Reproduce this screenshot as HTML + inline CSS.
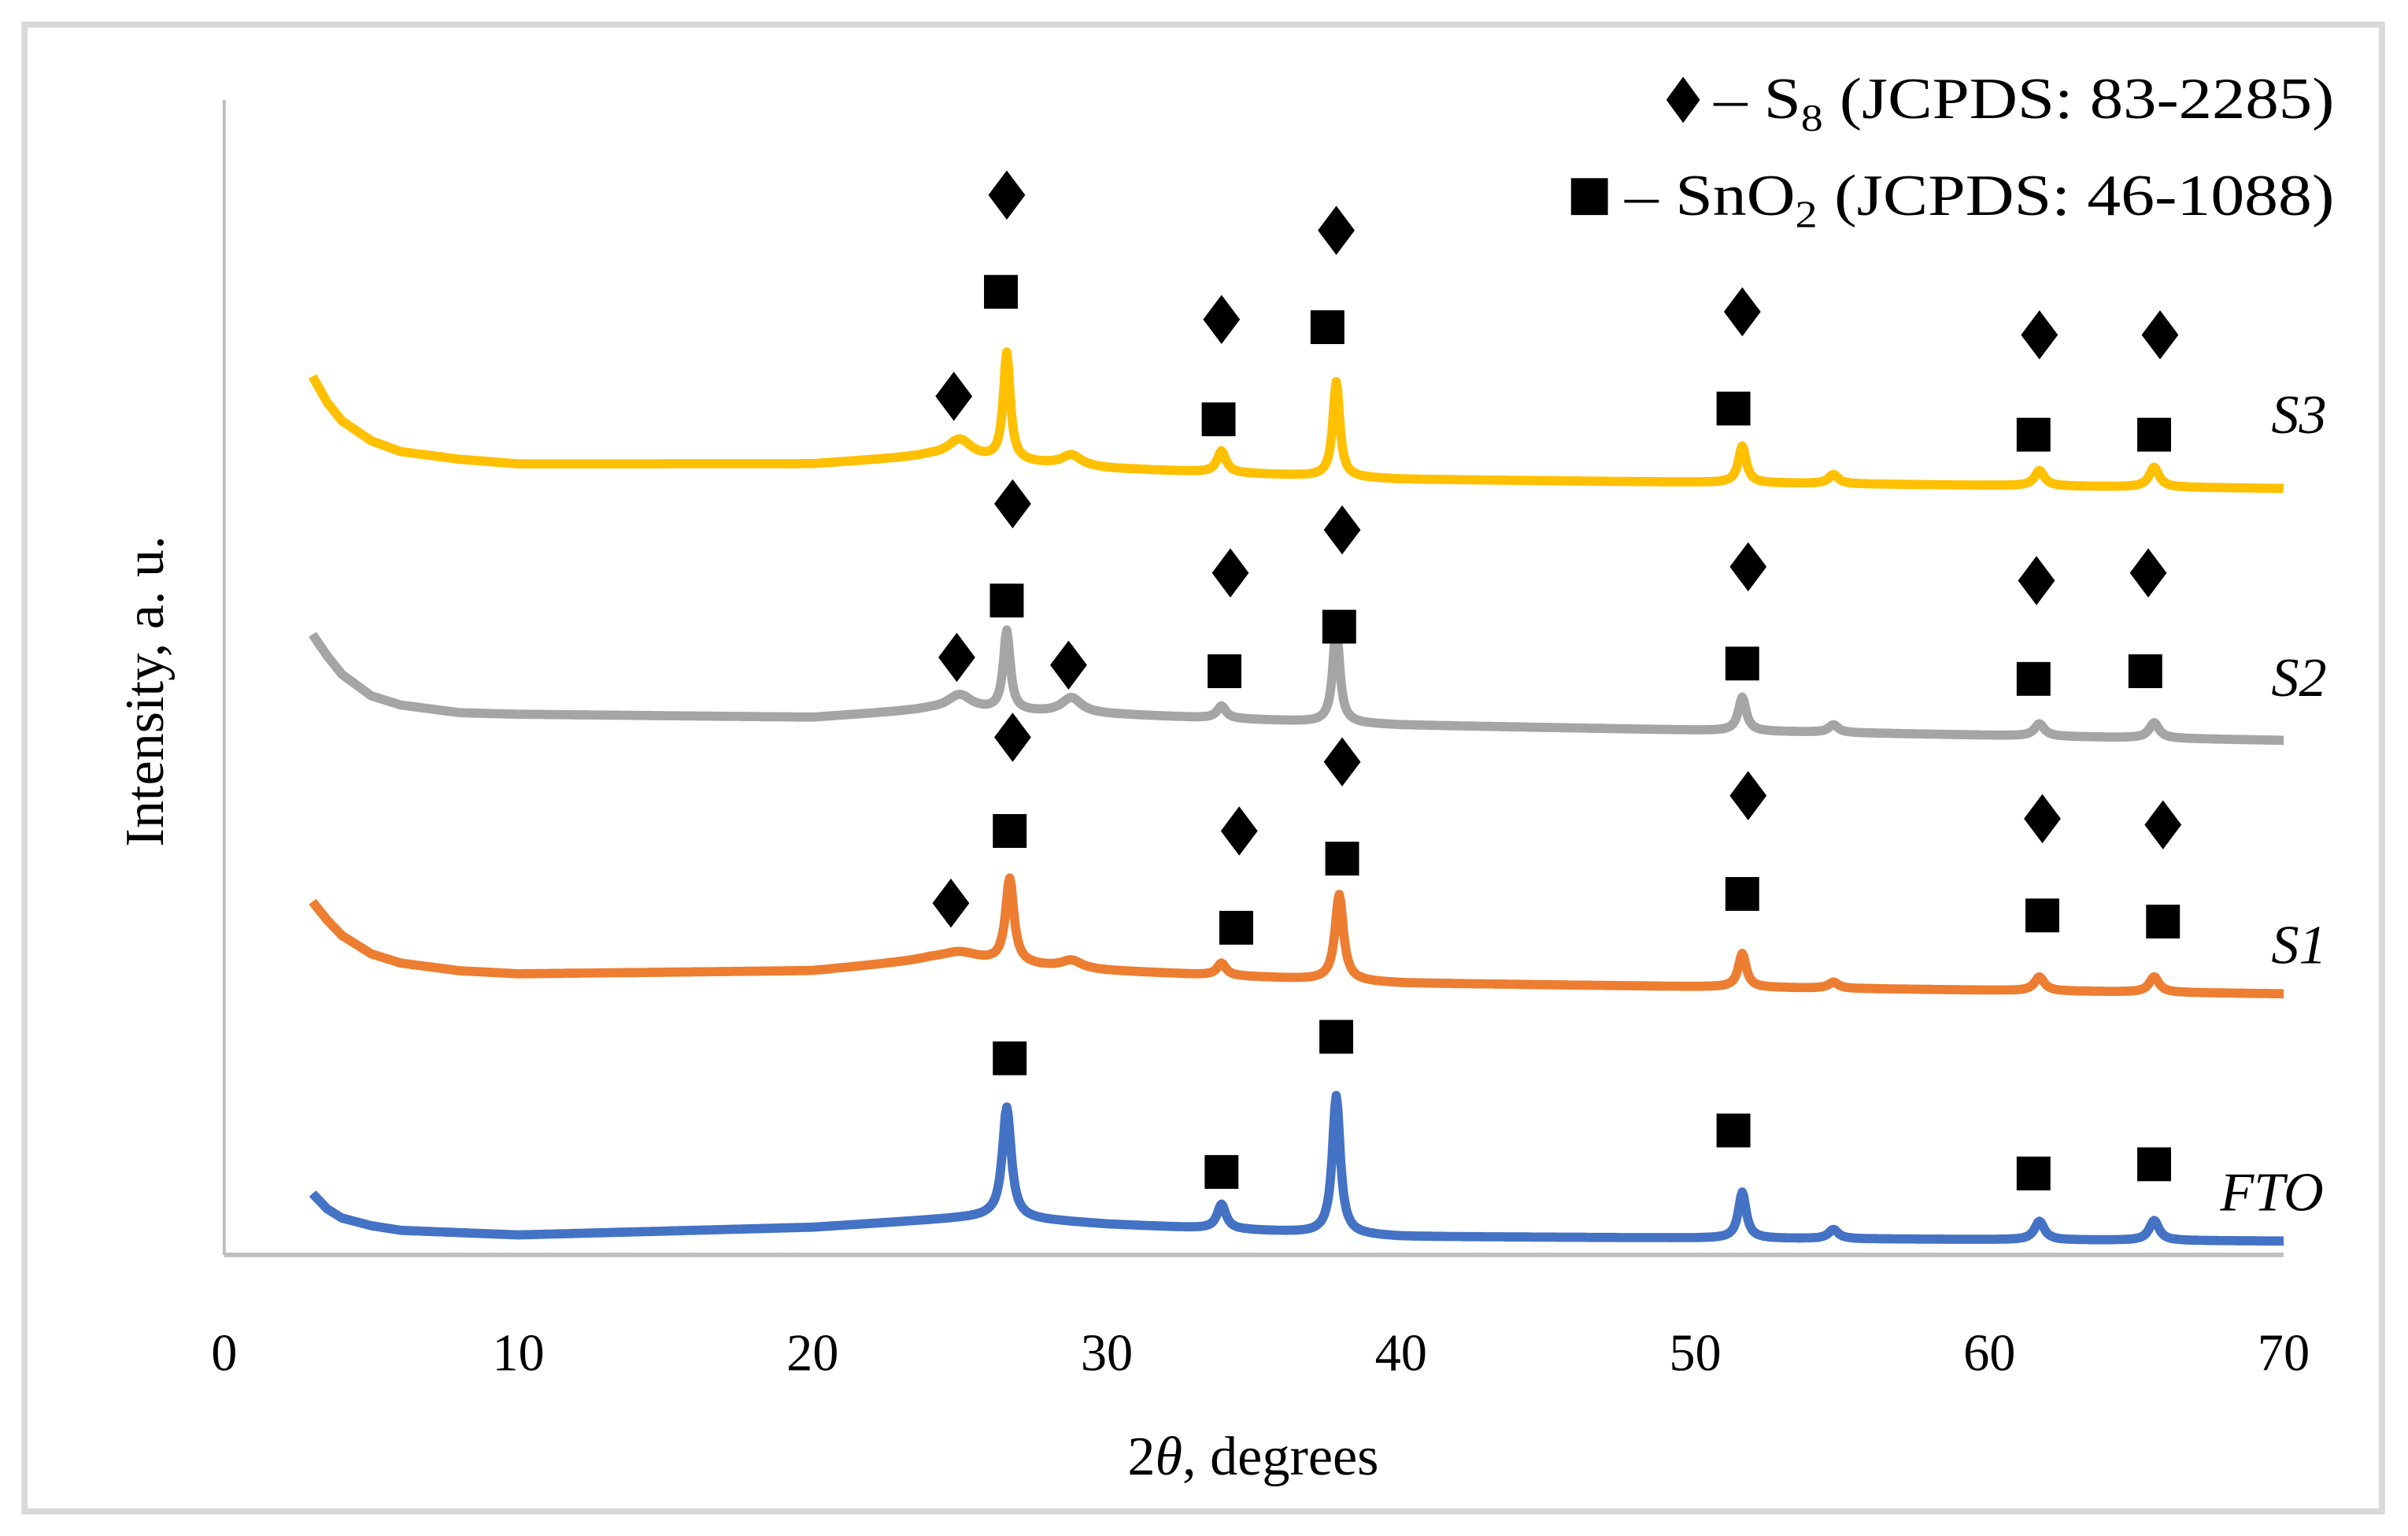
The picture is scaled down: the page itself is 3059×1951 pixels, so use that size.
<!DOCTYPE html>
<html><head><meta charset="utf-8"><style>
html,body{margin:0;padding:0;background:#fff;}
svg{display:block;}
text{font-family:"Liberation Serif",serif;fill:#000;}
</style></head><body>
<svg id="chart" width="3059" height="1951" viewBox="0 0 1568 1000" preserveAspectRatio="none" xmlns="http://www.w3.org/2000/svg">
<rect x="16" y="16" width="1535" height="968" fill="#fff" stroke="#d9d9d9" stroke-width="4"/>
<line x1="146" y1="65" x2="146" y2="817" stroke="#bfbfbf" stroke-width="2"/>
<line x1="146" y1="817" x2="1487" y2="817" stroke="#bfbfbf" stroke-width="3"/>
<g id="ticks"></g>
<g id="series"></g>
<g id="markers"></g>
<text x="816" y="960" font-size="36" text-anchor="middle">2<tspan font-style="italic">θ</tspan>, degrees</text>
<text transform="translate(106,450) rotate(-90)" font-size="36" text-anchor="middle">Intensity, a. u.</text>
<g>
<path d="M1096,50 L1107,65 L1096,80 L1085,65 Z" fill="#000"/>
<text x="1116" y="77" font-size="38" textLength="404" lengthAdjust="spacingAndGlyphs">– S<tspan font-size="25" dy="8">8</tspan><tspan dy="-8"> (JCPDS: 83-2285)</tspan></text>
<rect x="1023" y="116" width="24" height="24" fill="#000"/>
<text x="1058" y="140" font-size="38" textLength="462" lengthAdjust="spacingAndGlyphs">– SnO<tspan font-size="25" dy="8">2</tspan><tspan dy="-8"> (JCPDS: 46-1088)</tspan></text>
</g>
<text x="1515" y="282" font-size="36" font-style="italic" text-anchor="end">S3</text>
<text x="1515" y="453" font-size="36" font-style="italic" text-anchor="end">S2</text>
<text x="1515" y="627" font-size="36" font-style="italic" text-anchor="end">S1</text>
<text x="1513" y="788" font-size="36" font-style="italic" text-anchor="end">FTO</text>
</svg>
<script>
const xTicks=[0,10,20,30,40,50,60,70];
// baseline control points [2theta, intensity]
const ftoBase=[[3,40],[3.5,30],[4,24],[5,19],[6,16],[10,13],[20,18],[25,24],[26,25],[30,20],[40,12],[70,9]];
const s1Base=[[3,230],[3.5,218],[4,208],[5,196],[6,190],[8,185],[10,183],[20,185],[24,192],[26,190],[30,185],[40,177],[70,170]];
const s2Base=[[3,404],[3.5,390],[4,378],[5,364],[6,358],[8,353],[10,352],[20,350],[24,355],[30,352],[40,345],[70,335]];
const s3Base=[[3,572],[3.5,555],[4,543],[5,530],[6,523],[8,518],[10,515],[20,515],[24,520],[30,512],[40,505],[70,499]];
// peaks [2theta, height above baseline, hwhm]
const ftoPeaks=[[26.6,72,0.18],[33.9,16,0.18],[37.8,90,0.16],[51.6,30,0.16],[54.7,6,0.2],[61.7,12,0.2],[65.6,13,0.2]];
const s1Peaks=[[25,6,0.8],[26.7,55,0.17],[28.8,5,0.4],[33.9,8,0.18],[37.9,56,0.17],[51.6,22,0.16],[54.7,4,0.2],[61.7,9,0.2],[65.6,10,0.2]];
const s2Peaks=[[25,10,0.5],[26.6,52,0.14],[28.8,10,0.4],[33.9,8,0.18],[37.8,62,0.14],[51.6,22,0.16],[54.7,5,0.2],[61.7,8,0.2],[65.6,10,0.2]];
const s3Peaks=[[25,12,0.5],[26.6,70,0.14],[28.8,7,0.4],[33.9,14,0.18],[37.8,62,0.14],[51.6,24,0.16],[54.7,6,0.2],[61.7,10,0.2],[65.6,13,0.2]];
// markers [2theta, intensity position]
const s3Diamonds=[[24.8,559],[26.6,690],[33.9,609],[37.8,667],[51.6,614],[61.7,599],[65.8,599]];
const s3Squares=[[26.4,627],[33.8,544],[37.5,604],[51.3,551],[61.5,534],[65.6,534]];
const s2Diamonds=[[24.9,389],[26.8,489],[28.7,384],[34.2,444],[38.0,472],[51.8,448],[61.6,439],[65.4,444]];
const s2Squares=[[26.6,426],[34.0,380],[37.9,409],[51.6,385],[61.5,375],[65.3,380]];
const s1Diamonds=[[24.7,229],[26.8,337],[34.5,276],[38.0,321],[51.8,299],[61.8,284],[65.9,280]];
const s1Squares=[[26.7,276],[34.4,213],[38.0,258],[51.6,235],[61.8,221],[65.9,217]];
const ftoSquares=[[26.7,128],[33.9,54],[37.8,142],[51.3,81],[61.5,53],[65.6,59]];

const X=v=>146+(v/70)*1341;
const Y=v=>817-v;
const NS='http://www.w3.org/2000/svg';
function interp(base,x){for(let i=0;i<base.length-1;i++){const a=base[i],b=base[i+1];if(x>=a[0]&&x<=b[0]){return a[1]+(b[1]-a[1])*(x-a[0])/(b[0]-a[0]);}}return base[base.length-1][1];}
function val(base,peaks,x){let v=interp(base,x);for(const p of peaks){const d=(x-p[0])/p[2];v+=p[1]/(1+d*d);}return v;}
const tg=document.getElementById('ticks');
xTicks.forEach(t=>{const e=document.createElementNS(NS,'text');


e.setAttribute('x',X(t));e.setAttribute('y',892);e.setAttribute('font-size','34');e.setAttribute('text-anchor','middle');e.textContent=t;tg.appendChild(e);});
const sg=document.getElementById('series');
[[ftoBase,ftoPeaks,'#4472C4','series-fto'],[s1Base,s1Peaks,'#ED7D31','series-s1'],[s2Base,s2Peaks,'#A5A5A5','series-s2'],[s3Base,s3Peaks,'#FFC000','series-s3']].forEach(s=>{
let d='';for(let x=3;x<=70.001;x+=0.05){d+=(d?'L':'M')+X(x).toFixed(1)+','+Y(val(s[0],s[1],x)).toFixed(1);}
const p=document.createElementNS(NS,'path');


p.setAttribute('d',d);p.setAttribute('fill','none');p.setAttribute('stroke',s[2]);p.setAttribute('stroke-width','6');p.setAttribute('stroke-linejoin','round');sg.appendChild(p);});
const mg=document.getElementById('markers');
function diamond(m){const x=X(m[0]),y=Y(m[1]);const p=document.createElementNS(NS,'path');


p.setAttribute('d',`M${x},${y-16}L${x+12},${y}L${x},${y+16}L${x-12},${y}Z`);mg.appendChild(p);}
function square(m){const x=X(m[0]),y=Y(m[1]);const r=document.createElementNS(NS,'rect');


r.setAttribute('x',x-11);r.setAttribute('y',y-11);r.setAttribute('width',22);r.setAttribute('height',22);mg.appendChild(r);}
[s3Diamonds,s2Diamonds,s1Diamonds].forEach(a=>a.forEach(diamond));
[s3Squares,s2Squares,s1Squares,ftoSquares].forEach(a=>a.forEach(square));
</script>
</body></html>
